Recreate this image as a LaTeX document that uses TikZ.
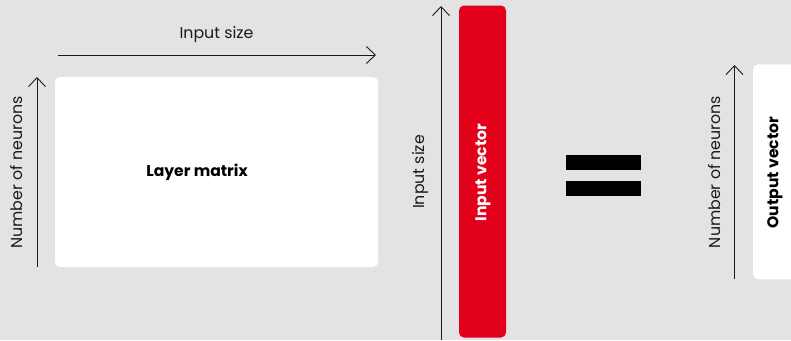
\documentclass[tikz,border=0pt]{standalone}
\usepackage{fontspec}
\setmainfont{Poppins}
\usetikzlibrary{arrows.meta}
\definecolor{bgcol}{HTML}{E3E3E3}
\definecolor{abbred}{HTML}{E2001A}
\definecolor{inkcol}{HTML}{1A1A1A}
\begin{document}
\begin{tikzpicture}[x=1pt,y=-1pt,
  box/.style={rectangle,rounded corners=5pt,inner sep=0pt,draw=none},
  lbl/.style={font=\fontsize{15.8}{18}\selectfont,text=inkcol,inner sep=0pt},
  blbl/.style={font=\fontsize{15.6}{18}\selectfont\bfseries,inner sep=0pt},
  dimarrow/.style={draw=inkcol,line width=0.9pt,-{Straight Barb[length=9pt,width=17pt,line width=0.9pt]}},
  bar/.style={rectangle,fill=black,inner sep=0pt,minimum width=75pt,minimum height=15pt}]
  % canvas
  \fill[bgcol] (0,0) rectangle (791,340);
  \useasboundingbox (0,0) rectangle (791,340);
  \clip (0,0) rectangle (791,340);

  % layer matrix
  \node[box,fill=white,minimum width=323pt,minimum height=190pt] (matrix) at (216.5,172) {};
  \node[blbl] (matrixtext) at (197,172.5) {Layer matrix};

  % input size (horizontal)
  \coordinate (hs) at (58,55);
  \coordinate (he) at (376,55);
  \draw[dimarrow] (hs) -- (he);
  \node[lbl] (hlabel) at (216.5,35) {Input size};

  % number of neurons (left)
  \coordinate (ls) at (37,267);
  \coordinate (le) at (37,77);
  \draw[dimarrow] (ls) -- (le);
  \node[lbl,rotate=90] (llabel) at (16.5,172.5) {Number of neurons};

  % input vector
  \node[box,fill=abbred,minimum width=47pt,minimum height=332pt] (invec) at (482.5,171.5) {};
  \node[blbl,text=white,rotate=90] (invectext) at (483,172.5) {Input vector};

  % input size (vertical)
  \coordinate (vs) at (441,340);
  \coordinate (ve) at (441,6);
  \draw[dimarrow] (vs) -- (ve);
  \node[lbl,rotate=90] (vlabel) at (421,172) {Input size};

  % equals sign
  \node[bar] (eqtop) at (603.5,162) {};
  \node[bar] (eqbot) at (603.5,188.5) {};

  % output vector
  \node[box,fill=white,minimum width=60pt,minimum height=215pt] (outvec) at (783,171.8) {};
  \node[blbl,rotate=90] (outvectext) at (775,172.5) {Output vector};

  % number of neurons (right)
  \coordinate (rs) at (734.5,279);
  \coordinate (re) at (734.5,65);
  \draw[dimarrow] (rs) -- (re);
  \node[lbl,rotate=90] (rlabel) at (715,172) {Number of neurons};
\end{tikzpicture}
\end{document}
